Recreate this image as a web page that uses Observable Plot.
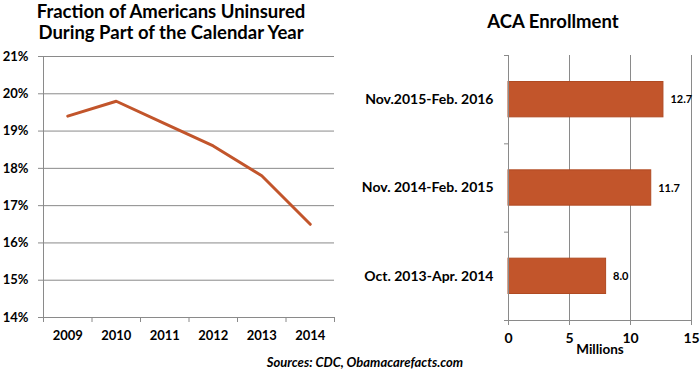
<!DOCTYPE html>
<html><head><meta charset="utf-8">
<script src="https://cdn.jsdelivr.net/npm/d3@7"></script>
<script src="https://cdn.jsdelivr.net/npm/@observablehq/plot@0.6"></script>
<style>
body{margin:0;background:#fff;}
#wrap{position:relative;width:700px;height:372px;font-family:Lato,"Open Sans",sans-serif;overflow:hidden;}
.t{position:absolute;font-weight:bold;color:#000;text-align:center;white-space:nowrap;}
#wrap svg{position:absolute;top:0;}
</style></head><body>
<div id="wrap">
<div class="t" style="left:21px;width:300px;top:1px;font-size:18.5px;line-height:21px;">Fraction of Americans Uninsured<br>During Part of the Calendar Year</div>
<div class="t" style="left:453px;width:200px;top:10px;font-size:18.5px;">ACA Enrollment</div>
<div class="t" style="left:265px;width:200px;top:354px;font-size:13px;font-style:italic;">Sources: CDC, Obamacarefacts.com</div>
</div>
<script>
const years = [2009, 2010, 2011, 2012, 2013, 2014];
const uninsured = [19.4, 19.8, 19.2, 18.6, 17.8, 16.5];
const pctTicks = [14, 15, 16, 17, 18, 19, 20, 21];
const periods = ["Oct. 2013-Apr. 2014", "Nov. 2014-Feb. 2015", "Nov.2015-Feb. 2016"];
const enrollment = [8.0, 11.7, 12.7];
const millionTicks = [0, 5, 10, 15];

const ORANGE = "#c2552b";
const GRID = "#8a8a8a";
const baseStyle = {fontFamily: "Lato, 'Open Sans', sans-serif", fontSize: "13px", fontWeight: "bold", color: "#000", background: "transparent", overflow: "visible"};

const lineData = years.map((year, i) => ({year, value: uninsured[i]}));
const yearBounds = [years[0] - 0.5, ...years.map(y => y + 0.5)];

const left = Plot.plot({
  width: 345, height: 372,
  marginLeft: 43, marginRight: 11, marginTop: 56, marginBottom: 55,
  style: baseStyle,
  x: {domain: [yearBounds[0], yearBounds[yearBounds.length - 1]]},
  y: {domain: [pctTicks[0], pctTicks[pctTicks.length - 1]]},
  marks: [
    Plot.gridY(pctTicks, {stroke: GRID, strokeOpacity: 1}),
    Plot.ruleX([yearBounds[0]], {stroke: GRID}),
    Plot.ruleY([pctTicks[0]], {stroke: GRID}),
    Plot.axisY(pctTicks, {tickFormat: d => d + "%", tickSize: 5, tickPadding: 10, stroke: GRID, fill: "#000", label: null}),
    Plot.axisX(yearBounds, {tickFormat: () => "", tickSize: 5, stroke: GRID, label: null}),
    Plot.axisX(years, {tickFormat: d => String(d), tickSize: 0, tickPadding: 13, fill: "#000", label: null}),
    Plot.line(lineData, {x: "year", y: "value", stroke: ORANGE, strokeWidth: 3})
  ]
});
left.style.left = "0px";

const barData = periods.map((period, i) => ({period, i, value: enrollment[i]}));
const bandBounds = [-0.5, ...periods.map((p, i) => i + 0.5)];

const right = Plot.plot({
  width: 350, height: 372,
  marginLeft: 158, marginRight: 9, marginTop: 55, marginBottom: 52,
  style: baseStyle,
  x: {domain: [millionTicks[0], millionTicks[millionTicks.length - 1]]},
  y: {domain: [bandBounds[0], bandBounds[bandBounds.length - 1]]},
  marks: [
    Plot.gridX(millionTicks.slice(1), {stroke: GRID, strokeOpacity: 1}),
    Plot.ruleY([bandBounds[0]], {stroke: GRID}),
    Plot.rectX(barData, {x1: 0, x2: "value", y1: d => d.i - 0.2, y2: d => d.i + 0.2, fill: ORANGE, stroke: "#b04a22", strokeWidth: 1}),
    Plot.ruleX([0], {stroke: GRID}),
    Plot.text(barData, {x: "value", y: "i", text: d => d.value.toFixed(1), textAnchor: "start", dx: 7, fontSize: 11, fill: "#000"}),
    Plot.axisY(bandBounds, {tickFormat: () => "", tickSize: 4, stroke: GRID, label: null}),
    Plot.axisY(barData.map(d => d.i), {tickFormat: i => periods[i], tickSize: 0, tickPadding: 15, fontSize: 14, fill: "#000", label: null}),
    Plot.axisX(millionTicks, {tickSize: 5, tickPadding: 8, fontSize: 14, stroke: GRID, fill: "#000", label: null}),
    Plot.text(["Millions"], {frameAnchor: "bottom", dy: 33, fontSize: 13.5, fill: "#000"})
  ]
});
right.style.left = "350px";

const wrap = document.getElementById("wrap");
wrap.appendChild(left);
wrap.appendChild(right);
</script>
</body></html>
